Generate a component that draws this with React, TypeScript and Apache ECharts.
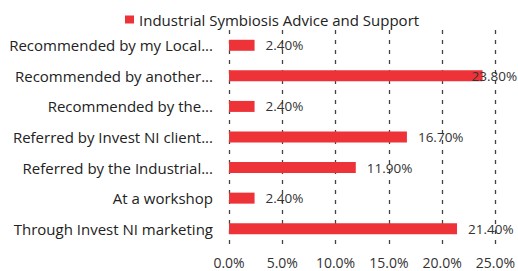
import React, { useEffect, useRef } from "react";
import * as echarts from "echarts";

const categories = [
  "Recommended by my Local...",
  "Recommended by another...",
  "Recommended by the...",
  "Referred by Invest NI client...",
  "Referred by the Industrial...",
  "At a workshop",
  "Through Invest NI marketing",
];
const values = [2.4, 23.8, 2.4, 16.7, 11.9, 2.4, 21.4];
const seriesName = "Industrial Symbiosis Advice and Support";
const xTicks = [0, 5, 10, 15, 20, 25];

const FONT = "Open Sans";

export default function App() {
  const ref = useRef<HTMLDivElement>(null);
  useEffect(() => {
    document.body.style.margin = "0";
    const chart = echarts.init(ref.current!, null, { renderer: "svg" });
    chart.setOption({
      animation: false,
      backgroundColor: "#ffffff",
      textStyle: { fontFamily: FONT },
      legend: {
        top: 7,
        left: 120,
        itemWidth: 9,
        itemHeight: 8,
        itemGap: 6,
        icon: "rect",
        textStyle: { fontSize: 15, color: "#222", fontFamily: FONT },
        data: [seriesName],
      },
      grid: { left: 229, right: 17, top: 30, bottom: 27, containLabel: false },
      xAxis: {
        type: "value",
        min: xTicks[0],
        max: xTicks[xTicks.length - 1],
        interval: 5,
        axisLine: { show: false },
        axisTick: { show: false },
        axisLabel: {
          formatter: (v: number) => v.toFixed(1) + "%",
          fontSize: 14,
          color: "#333",
          margin: 11,
          fontFamily: FONT,
        },
        splitLine: {
          show: true,
          lineStyle: { type: [4, 6], color: "#444", width: 1.3 },
        },
      },
      yAxis: {
        type: "category",
        inverse: true,
        data: categories,
        axisLine: { show: false },
        axisTick: { show: false },
        axisLabel: { fontSize: 15, color: "#222", margin: 16, fontFamily: FONT },
      },
      series: [
        {
          name: seriesName,
          type: "bar",
          barWidth: 11,
          itemStyle: { color: "#ee3338" },
          data: values.map((v, i) => ({
            value: v,
            label:
              i === 1
                ? { show: true, position: "right", offset: [-22, 0] }
                : undefined,
          })),
          label: {
            show: true,
            position: "right",
            distance: 11,
            formatter: (p: any) => p.value.toFixed(2) + "%",
            fontSize: 13.5,
            color: "#333",
            fontFamily: FONT,
          },
        },
      ],
    });
    return () => chart.dispose();
  }, []);
  return <div ref={ref} style={{ width: 518, height: 271 }} />;
}
